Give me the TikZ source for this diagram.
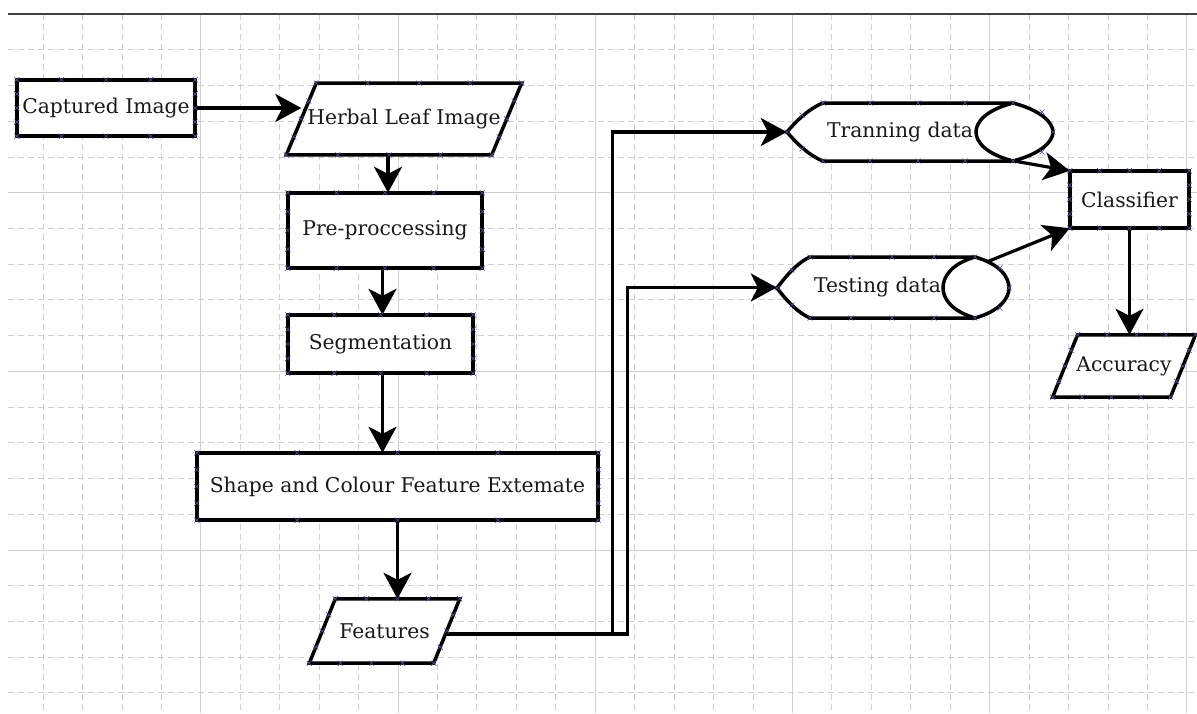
\documentclass[tikz,border=0pt]{standalone}
\usepackage{fontspec}
\setmainfont{DejaVu Serif}
\usetikzlibrary{arrows.meta,calc}
\pgfdeclarelayer{bg}
\pgfdeclarelayer{shp}
\pgfsetlayers{bg,shp,main}
\definecolor{gridc}{RGB}{208,208,212}
\definecolor{xmc}{RGB}{80,80,130}
\newcommand\xmk[4]{%
  \foreach \t in {0,0.25,0.5,0.75,1}{%
    \draw[xm] ($(#1)!\t!(#2)$) +(-2.5,-2.5) -- +(2.5,2.5) +(-2.5,2.5) -- +(2.5,-2.5);
    \draw[xm] ($(#4)!\t!(#3)$) +(-2.5,-2.5) -- +(2.5,2.5) +(-2.5,2.5) -- +(2.5,-2.5);}%
  \foreach \t in {0.25,0.5,0.75}{%
    \draw[xm] ($(#1)!\t!(#4)$) +(-2.5,-2.5) -- +(2.5,2.5) +(-2.5,2.5) -- +(2.5,-2.5);
    \draw[xm] ($(#2)!\t!(#3)$) +(-2.5,-2.5) -- +(2.5,2.5) +(-2.5,2.5) -- +(2.5,-2.5);}%
}
\begin{document}
\begin{tikzpicture}[x=1pt,y=-1pt,
  gridd/.style={draw=gridc, line width=0.8pt, dash pattern=on 6pt off 4pt},
  grids/.style={draw=gridc, line width=0.9pt},
  box/.style={draw=black, line width=3.5pt, fill=white, line join=miter},
  txt/.style={font=\fontsize{20.3}{23}\selectfont, text=black!90, inner sep=0pt},
  rbox/.style={txt, rectangle},
  arr/.style={line width=3.2pt, -{Stealth[length=26pt,width=28pt,inset=7pt]}},
  xm/.style={draw=xmc, line width=0.6pt}]
\useasboundingbox (0,0) rectangle (1197,713);
\begin{pgfonlayer}{bg}
  \fill[white] (0,0) rectangle (1197,713);
  \foreach \i in {1,...,30}{\draw[gridd] ({3.6+39.44*\i},14) -- ({3.6+39.44*\i},713);}
  \foreach \j in {1,...,19}{\draw[gridd] (8,{14+35.73*\j}) -- (1197,{14+35.73*\j});}
  \foreach \i in {5,10,...,30}{\draw[grids] ({3.6+39.44*\i},14) -- ({3.6+39.44*\i},713);}
  \foreach \j in {5,10,15}{\draw[grids] (8,{14+35.73*\j}) -- (1197,{14+35.73*\j});}
  \draw[draw=black!75, line width=1.5pt] (8,14) -- (1197,14);
\end{pgfonlayer}

% rectangle nodes
\node[rbox, minimum width=178pt, minimum height=56pt] (cap) at (106,108) {Captured Image};
\node[rbox, minimum width=194pt, minimum height=75pt] (pre) at (385,230.5) {Pre-proccessing};
\node[rbox, minimum width=185pt, minimum height=58pt] (seg) at (380.5,344) {Segmentation};
\node[rbox, minimum width=401pt, minimum height=67pt] (shape) at (397.5,486.5) {Shape and Colour Feature Extemate};
\node[rbox, minimum width=119pt, minimum height=57pt] (cls) at (1129.5,199.5) {Classifier};
% parallelogram nodes
\node[rbox, minimum width=205pt, minimum height=71.5pt] (herb) at (404,119) {Herbal Leaf Image};
\node[rbox, minimum width=124pt, minimum height=64pt] (feat) at (384.5,631) {Features};
\node[rbox, minimum width=117.5pt, minimum height=62pt] (acc) at (1124,366) {Accuracy};
% display nodes
\node[rbox, minimum width=266pt, minimum height=58pt] (train) at (920,132) {Tranning data\hspace*{40pt}\null};
\node[rbox, minimum width=232pt, minimum height=61pt] (test) at (893,287.5) {Testing data\hspace*{31pt}\null};

\begin{pgfonlayer}{shp}
  \foreach \n in {cap,pre,seg,shape,cls}{\draw[box] (\n.north west) rectangle (\n.south east);}
  \draw[box] ([xshift=15pt]herb.north west) -- ([xshift=15pt]herb.north east) -- ([xshift=-15pt]herb.south east) -- ([xshift=-15pt]herb.south west) -- cycle;
  \draw[box] ([xshift=13pt]feat.north west) -- ([xshift=13pt]feat.north east) -- ([xshift=-13pt]feat.south east) -- ([xshift=-13pt]feat.south west) -- cycle;
  \draw[box] ([xshift=12.5pt]acc.north west) -- ([xshift=12.5pt]acc.north east) -- ([xshift=-12.5pt]acc.south east) -- ([xshift=-12.5pt]acc.south west) -- cycle;
  \draw[box] (787,132) .. controls (797,120) and (810,108) .. (823,103) -- (1013,103)
     .. controls (1040,110) and (1053,122) .. (1053,132) .. controls (1053,142) and (1040,154) .. (1013,161)
     -- (823,161) .. controls (810,156) and (797,144) .. (787,132) -- cycle;
  \draw[line width=3.5pt] (1013,103) .. controls (986,110) and (976,122) .. (976,132) .. controls (976,142) and (986,154) .. (1013,161);
  \draw[box] (777,288) .. controls (786,276) and (798,262) .. (810,257) -- (975,257)
     .. controls (1000,264) and (1009,277) .. (1009,288) .. controls (1009,298) and (1000,311) .. (975,318)
     -- (810,318) .. controls (798,313) and (786,300) .. (777,288) -- cycle;
  \draw[line width=3.5pt] (975,257) .. controls (951,264) and (943,277) .. (943,288) .. controls (943,298) and (951,311) .. (975,318);
\end{pgfonlayer}

% connectors
\draw[arr] (cap.east) -- (cap.east -| herb.west);
\draw[arr] ([xshift=3pt]herb.south -| pre.north) -- ([xshift=3pt]pre.north);
\draw[arr] ([xshift=2pt]pre.south -| seg.north) -- ([xshift=2pt]seg.north);
\draw[arr] ([xshift=2pt]seg.south) -- ([xshift=2pt]seg.south |- shape.north);
\draw[arr] (shape.south) -- (shape.south |- feat.north);
\draw[arr] ([yshift=-3pt]feat.east) -| ([xshift=-174pt]train.west) -- (train.west);
\draw[arr] ([yshift=-3pt]feat.east) -| ([xshift=-149pt]test.west) -- (test.west);
\draw[arr] ([xshift=-38pt]train.south east) -- (cls.north west);
\draw[arr] ([xshift=-22pt,yshift=-5pt]test.north east) -- (cls.south west);
\draw[arr] (cls.south) -- (cls.south |- acc.north);

% connection-point marks
\xmk{cap.north west}{cap.north east}{cap.south east}{cap.south west}
\xmk{pre.north west}{pre.north east}{pre.south east}{pre.south west}
\xmk{seg.north west}{seg.north east}{seg.south east}{seg.south west}
\xmk{shape.north west}{shape.north east}{shape.south east}{shape.south west}
\xmk{cls.north west}{cls.north east}{cls.south east}{cls.south west}
\xmk{[xshift=15pt]herb.north west}{[xshift=15pt]herb.north east}{[xshift=-15pt]herb.south east}{[xshift=-15pt]herb.south west}
\xmk{[xshift=13pt]feat.north west}{[xshift=13pt]feat.north east}{[xshift=-13pt]feat.south east}{[xshift=-13pt]feat.south west}
\xmk{[xshift=12.5pt]acc.north west}{[xshift=12.5pt]acc.north east}{[xshift=-12.5pt]acc.south east}{[xshift=-12.5pt]acc.south west}
\foreach \p in {(823,103),(870,103),(918,103),(965,103),(1013,103),(823,161),(870,161),(918,161),(965,161),(1013,161),(787,132),(1053,132),(802,115),(802,149),(1042,112),(1042,152),
  (810,257),(851,257),(892,257),(934,257),(975,257),(810,318),(851,318),(892,318),(934,318),(975,318),(777,288),(1009,288),(792,270),(792,305),(1000,268),(1000,308)}
  {\draw[xm] \p +(-2.5,-2.5) -- +(2.5,2.5) +(-2.5,2.5) -- +(2.5,-2.5);}
\end{tikzpicture}
\end{document}
